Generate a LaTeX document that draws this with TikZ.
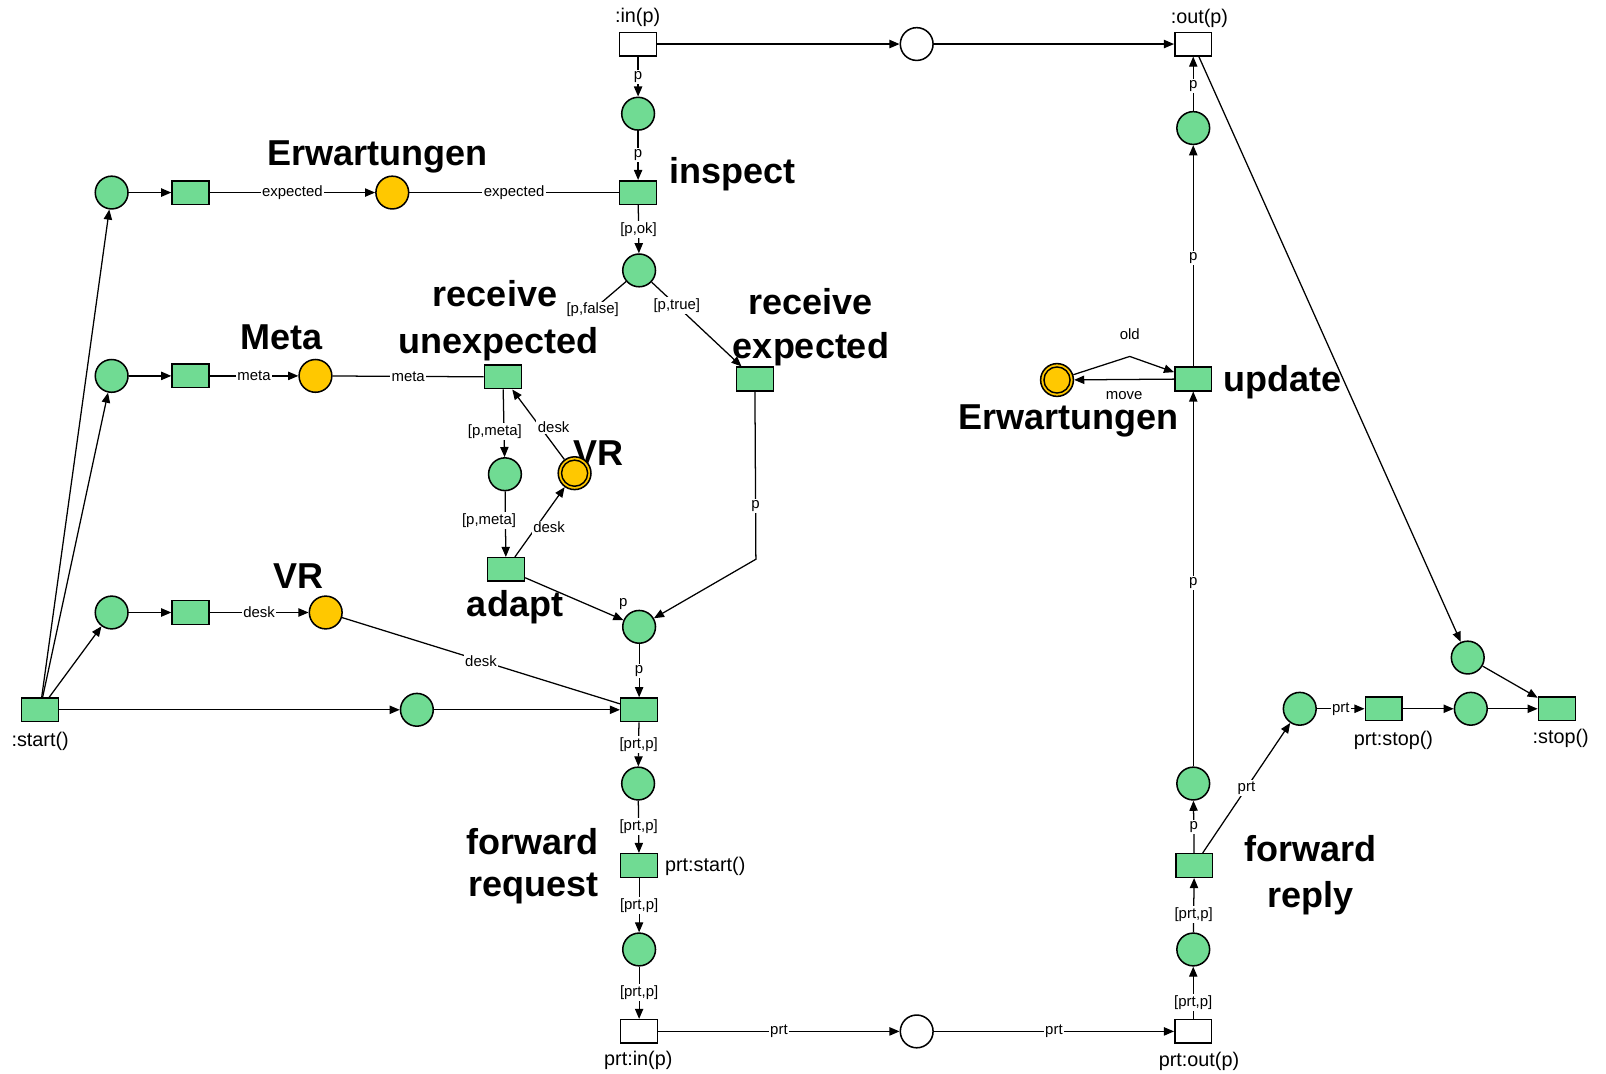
\documentclass[tikz,border=0pt]{standalone}
\usepackage{fontspec}
\setmainfont{Liberation Sans}
\usetikzlibrary{arrows.meta}
\definecolor{pgreen}{RGB}{112,219,147}
\definecolor{pyellow}{RGB}{255,200,0}

\begin{document}
\begin{tikzpicture}[x=0.02cm, y=-0.02cm,
  every node/.style={font=\fontsize{8.3}{10}\selectfont},
  place/.style={circle, draw, line width=0.85pt, fill=pgreen,
    minimum size=0.64cm, inner sep=0pt},
  wplace/.style={place, fill=white},
  yplace/.style={place, fill=pyellow},
  yplacedbl/.style={yplace, path picture={\draw[line width=0.8pt]
    (path picture bounding box.center) circle[radius=0.255cm];}},
  trans/.style={rectangle, draw, line width=0.85pt, fill=pgreen,
    minimum width=0.72cm, minimum height=0.46cm, inner sep=0pt},
  wtrans/.style={trans, fill=white},
  arc/.style={line width=0.7pt, -{Triangle[length=5.6pt,width=4.6pt]}},
  plain/.style={line width=0.7pt},
  lbl/.style={fill=white, inner sep=0.8pt},
  pname/.style={inner sep=0pt, font=\fontsize{11}{13}\selectfont},
  title/.style={anchor=base, inner sep=0pt, font=\fontsize{20}{24}\selectfont\bfseries}
]
\useasboundingbox (0,0) rectangle (1568,1048);

% --- bold captions ---
\node[title] (tErwL) at (368.6,161.7) {Erwartungen};
\node[title] (tMeta) at (274.5,341.7) {Meta};
\node[title] (tVRl) at (291.2,574.4) {VR};
\node[title] (tVRm) at (584.2,454) {VR};
\node[title] (tInspect) at (715,179) {inspect};
\node[title] (tRecvU1) at (483.3,299.4) {receive};
\node[title] (tRecvU2) at (486.6,345) {unexpected};
\node[title] (tRecvE1) at (790.9,306.6) {receive};
\node[title] (tRecvE2) at (791.8,349.9) {expected};
\node[title] (tAdapt) at (502.8,602.1) {adapt};
\node[title] (tUpdate) at (1252.4,382.4) {update};
\node[title] (tErwR) at (1042.8,419.8) {Erwartungen};
\node[title] (tFwdReq1) at (519.5,834) {forward};
\node[title] (tFwdReq2) at (520.5,875) {request};
\node[title] (tFwdRep1) at (1279,841.3) {forward};
\node[title] (tFwdRep2) at (1279,885.9) {reply};

% --- interface transitions and their places ---
\node[wtrans] (tin) at (623,43) {};
\node[wplace] (ptop) at (895,43) {};
\node[wtrans] (tout) at (1165,43) {};
\node[wtrans] (tprtin) at (624,1007) {};
\node[wplace] (pbot) at (895,1007) {};
\node[wtrans] (tprtout) at (1165,1007) {};

% --- request path ---
\node[place] (p1) at (623,111) {};
\node[trans] (tinspect) at (623,188) {};
\node[place] (p2) at (624,264) {};
\node[trans] (trecvU) at (491,368) {};
\node[trans] (trecvE) at (737,370) {};
\node[place] (p3) at (493,463) {};
\node[yplacedbl] (vrm) at (561,462) {};
\node[trans] (tadapt) at (494,556) {};
\node[place] (p4) at (624,612) {};
\node[trans] (tfwd) at (624,693) {};
\node[place] (p5) at (623,765) {};
\node[trans] (tprtstart) at (624,845) {};
\node[place] (p6) at (624,927) {};

% --- reply path ---
\node[place] (p7) at (1165,927) {};
\node[trans] (tfwdrep) at (1166,845) {};
\node[place] (p8) at (1165,765) {};
\node[trans] (tupdate) at (1165,370) {};
\node[yplacedbl] (erwR) at (1032,371) {};
\node[place] (p10) at (1165,125) {};
\node[place] (p9) at (1269,692) {};
\node[trans] (tprtstop) at (1351,692) {};
\node[place] (p12) at (1436,692) {};
\node[trans] (tstop) at (1520,692) {};
\node[place] (p11) at (1433,642) {};

% --- initialisation ---
\node[trans] (tstart) at (39,693) {};
\node[place] (pa) at (109,188) {};
\node[trans] (ta) at (186,188) {};
\node[yplace] (erwL) at (383,188) {};
\node[place] (pb) at (109,367) {};
\node[trans] (tb) at (186,367) {};
\node[yplace] (meta) at (308,367) {};
\node[place] (pc) at (109,598) {};
\node[trans] (tc) at (186,598) {};
\node[yplace] (vrl) at (318,598) {};
\node[place] (pmid) at (407,693) {};

% --- transition names ---
\node[pname] (lin) at (622.5,16.5) {:in(p)};
\node[pname] (lout) at (1171,18) {:out(p)};
\node[pname] (lstart) at (39.2,724) {:start()};
\node[pname, anchor=west] (lprtstart) at (649,845.5) {prt:start()};
\node[pname] (lprtin) at (623.2,1035) {prt:in(p)};
\node[pname] (lprtout) at (1170.6,1036.6) {prt:out(p)};
\node[pname] (lprtstop) at (1360.4,722.5) {prt:stop()};
\node[pname] (lstop) at (1523.7,721) {:stop()};

% --- arcs: top and bottom interface ---
\draw[arc] (tin) -- (ptop);
\draw[arc] (ptop) -- (tout);
\draw[arc] (tprtin) -- node[lbl]{prt} (pbot);
\draw[arc] (pbot) -- node[lbl]{prt} (tprtout);

% --- arcs: request path ---
\draw[arc] (tin) -- node[lbl]{p} (p1);
\draw[arc] (p1) -- node[lbl]{p} (tinspect);
\draw[arc] (tinspect) -- node[lbl]{[p,ok]} (p2);
\coordinate (pfalse) at (578.7,302.7);
\draw[plain] (p2) -- (pfalse) node[lbl]{[p,false]};
\draw[arc] (p2) -- node[lbl, pos=0.28]{[p,true]} (trecvE);
\draw[arc] (trecvU) -- node[lbl, pos=0.62, xshift=-0.18cm]{[p,meta]} (p3);
\draw[arc] (p3) -- node[lbl, pos=0.45, xshift=-0.32cm]{[p,meta]} (tadapt);
\draw[arc] (vrm) -- node[lbl, pos=0.46, xshift=0.26cm]{desk} (trecvU);
\draw[arc] (tadapt) -- node[lbl, pos=0.42, xshift=0.26cm]{desk} (vrm);
\draw[arc] (tadapt) -- (p4) node[pos=1, above=0.2cm, inner sep=0pt]{p};
\coordinate (bendE) at (738,546);
\draw[arc] (trecvE) -- node[lbl, pos=0.68]{p} (bendE) -- (p4);
\draw[arc] (p4) -- node[lbl]{p} (tfwd);
\draw[plain] (vrl) -- node[lbl]{desk} (tfwd);
\draw[arc] (tstart) -- (pmid);
\draw[arc] (pmid) -- (tfwd);
\draw[arc] (tfwd) -- node[lbl]{[prt,p]} (p5);
\draw[arc] (p5) -- node[lbl]{[prt,p]} (tprtstart);
\draw[arc] (tprtstart) -- node[lbl]{[prt,p]} (p6);
\draw[arc] (p6) -- node[lbl]{[prt,p]} (tprtin);

% --- arcs: reply path ---
\draw[arc] (tprtout) -- node[lbl, pos=0.32]{[prt,p]} (p7);
\draw[arc] (p7) -- node[lbl, pos=0.33]{[prt,p]} (tfwdrep);
\draw[arc] (tfwdrep) -- node[lbl]{p} (p8);
\draw[arc] (tfwdrep) -- node[lbl]{prt} (p9);
\draw[arc] (p8) -- node[lbl, pos=0.49]{p} (tupdate);
\draw[arc] (tupdate) -- node[lbl, pos=0.49]{p} (p10);
\draw[arc] (p10) -- node[lbl, pos=0.45]{p} (tout);
\draw[arc] (tupdate) -- node[below=0.18cm, inner sep=1pt]{move} (erwR);
\coordinate (oldbend) at (1103,348);
\draw[arc] (erwR) -- (oldbend) node[above=0.28cm, inner sep=1pt]{old} -- (tupdate);
\draw[arc] (tout) -- (p11);
\draw[arc] (p11) -- (tstop);
\draw[arc] (p9) -- node[lbl]{prt} (tprtstop);
\draw[arc] (tprtstop) -- (p12);
\draw[arc] (p12) -- (tstop);

% --- arcs: initialisation ---
\draw[arc] (tstart) -- (pa);
\draw[arc] (tstart) -- (pb);
\draw[arc] (tstart) -- (pc);
\draw[arc] (pa) -- (ta);
\draw[arc] (ta) -- node[lbl]{expected} (erwL);
\draw[plain] (erwL) -- node[lbl]{expected} (tinspect);
\draw[arc] (pb) -- (tb);
\draw[arc] (tb) -- node[lbl]{meta} (meta);
\draw[plain] (meta) -- node[lbl]{meta} (trecvU);
\draw[arc] (pc) -- (tc);
\draw[arc] (tc) -- node[lbl]{desk} (vrl);
\end{tikzpicture}
\end{document}
